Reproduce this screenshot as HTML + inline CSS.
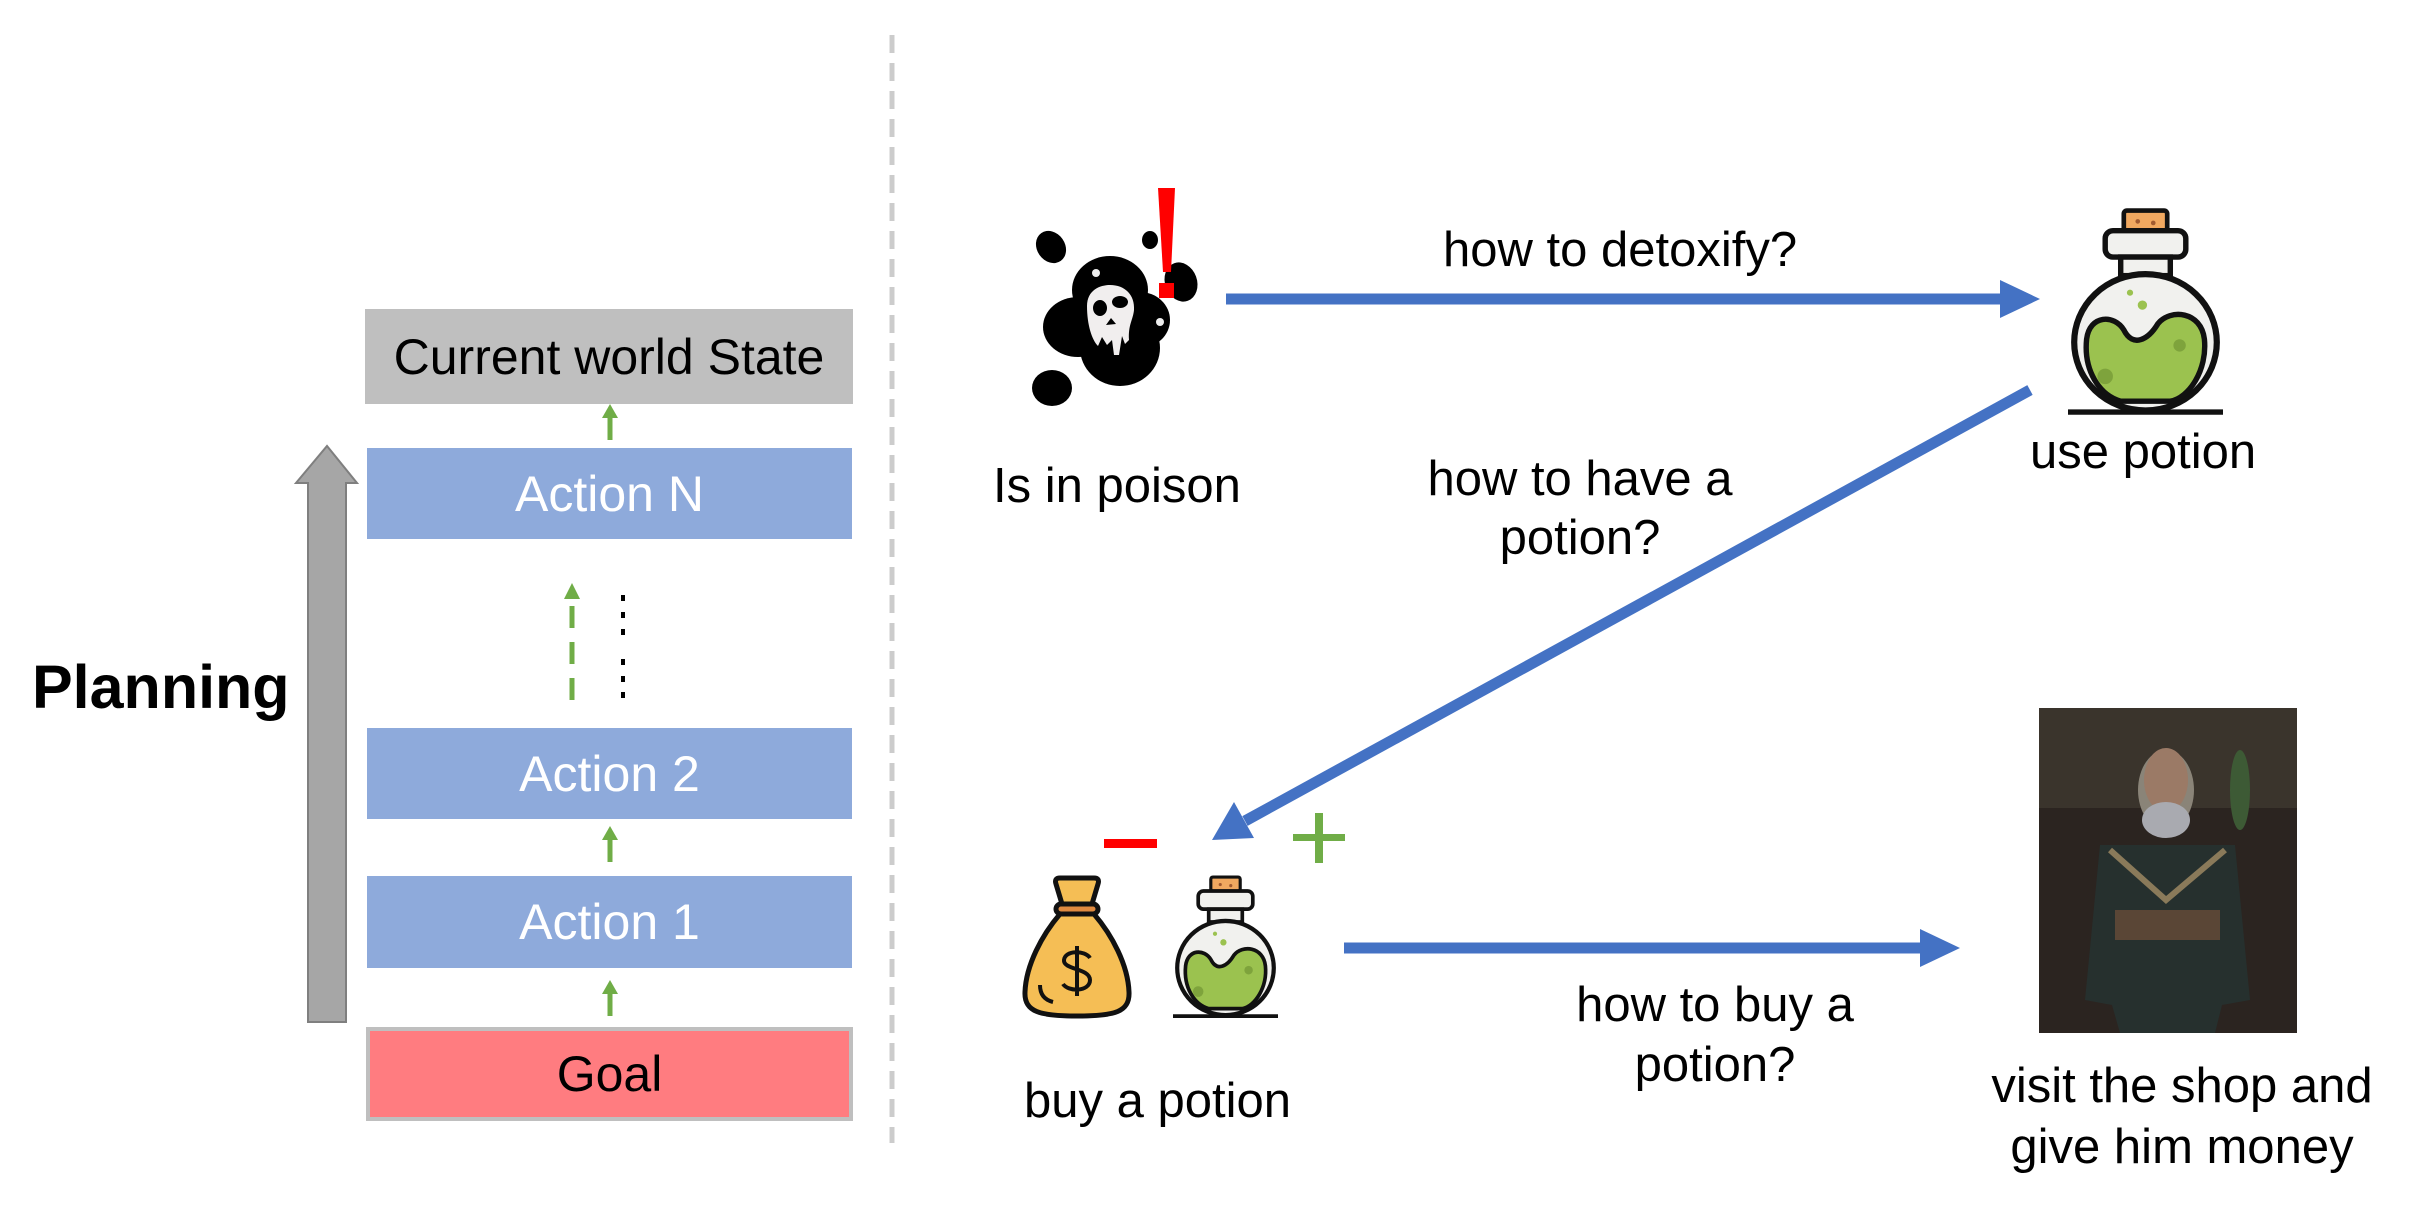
<!DOCTYPE html>
<html><head><meta charset="utf-8"><style>
html,body{margin:0;padding:0;background:#fff;}
body{width:2414px;height:1210px;position:relative;overflow:hidden;font-family:"Liberation Sans",Arial,sans-serif;}
.t{position:absolute;white-space:nowrap;color:#000;}
.box{position:absolute;display:flex;align-items:center;justify-content:center;font-size:50px;box-sizing:border-box;}
</style></head><body>
<svg width="2414" height="1210" style="position:absolute;left:0;top:0">
<defs>
<g id="potion">
  <rect x="36" y="1" width="28" height="13" rx="2" fill="#f0a860" stroke="#111" stroke-width="3"/>
  <circle cx="45" cy="8" r="1.5" fill="#a05a30"/><circle cx="55" cy="9" r="1.5" fill="#a05a30"/>
  <rect x="24" y="14" width="52" height="17" rx="5" fill="#f1f1ee" stroke="#111" stroke-width="3.5"/>
  <rect x="34" y="31" width="32" height="12" fill="#f1f1ee" stroke="#111" stroke-width="3.5"/>
  <ellipse cx="50" cy="86" rx="46" ry="44" fill="#f1f1ee" stroke="#111" stroke-width="4"/>
  <path d="M12 84 C14 68 30 68 36 78 C42 90 52 84 58 74 C66 64 86 66 88 84 C90 104 78 122 66 124 L34 124 C20 120 10 104 12 84 Z" fill="#9bc24f" stroke="#111" stroke-width="3.5"/>
  <circle cx="48" cy="62" r="3" fill="#9bc24f"/><circle cx="40" cy="54" r="2" fill="#9bc24f"/>
  <circle cx="72" cy="88" r="4" fill="#7ea33c"/><circle cx="24" cy="108" r="5" fill="#7ea33c"/>
  <line x1="0" y1="131" x2="100" y2="131" stroke="#111" stroke-width="3.5"/>
</g>
</defs>
<line x1="892" y1="35" x2="892" y2="1143" stroke="#cccccc" stroke-width="5" stroke-dasharray="18 10"/>
<polygon points="308,1022 346,1022 346,483 357,483 327,446 296,483 308,483" fill="#a6a6a6" stroke="#7f7f7f" stroke-width="2"/>
<g stroke="#70ad47" stroke-width="5" fill="#70ad47">
<line x1="610" y1="440" x2="610" y2="416"/><polygon points="602,418 618,418 610,404" stroke="none"/>
<line x1="610" y1="862" x2="610" y2="838"/><polygon points="602,840 618,840 610,826" stroke="none"/>
<line x1="610" y1="1016" x2="610" y2="992"/><polygon points="602,994 618,994 610,980" stroke="none"/>
<line x1="572" y1="700" x2="572" y2="595" stroke-dasharray="22 14"/><polygon points="564,599 580,599 572,583" stroke="none"/>
</g>
<g fill="#000"><rect x="621" y="595" width="4" height="6"/><rect x="621" y="612" width="4" height="6"/><rect x="621" y="629" width="4" height="6"/>
<rect x="621" y="659" width="4" height="6"/><rect x="621" y="676" width="4" height="6"/><rect x="621" y="692" width="4" height="6"/></g>
<g fill="#4472c4" stroke="#4472c4">
<line x1="1226" y1="299" x2="2005" y2="299" stroke-width="11"/>
<polygon points="2000,280 2040,299 2000,318" stroke="none"/>
<line x1="2030" y1="390" x2="1245" y2="821" stroke-width="11"/>
<polygon points="1212,840 1234,802 1254,838" stroke="none"/>
<line x1="1344" y1="948" x2="1925" y2="948" stroke-width="11"/>
<polygon points="1920,929 1960,948 1920,967" stroke="none"/>
</g>
<rect x="1104" y="839" width="53" height="9" fill="#ff0000"/>
<rect x="1293" y="834" width="52" height="7" fill="#70ad47"/>
<rect x="1315" y="813" width="8" height="50" fill="#70ad47"/>
<g fill="#000">
<ellipse cx="1051" cy="247" rx="14" ry="17" transform="rotate(-35 1051 247)"/>
<ellipse cx="1150" cy="240" rx="8" ry="9"/>
<ellipse cx="1181" cy="282" rx="16" ry="20" transform="rotate(-20 1181 282)"/>
<ellipse cx="1052" cy="388" rx="20" ry="18"/>
<ellipse cx="1110" cy="290" rx="38" ry="34"/>
<ellipse cx="1078" cy="327" rx="35" ry="30"/>
<ellipse cx="1120" cy="348" rx="40" ry="38"/>
<ellipse cx="1140" cy="320" rx="30" ry="28"/>
</g>
<path d="M1087 306 C1087 290 1100 285 1110 285 C1125 285 1135 295 1134 310 C1133 320 1128 325 1129 340 L1125 344 L1122 336 L1119 355 L1114 355 L1112 340 L1107 345 L1102 337 L1098 346 C1092 340 1087 325 1087 306 Z" fill="#f1eeee"/>
<ellipse cx="1100" cy="308" rx="7" ry="8" fill="#000"/>
<ellipse cx="1120" cy="302" rx="8" ry="6" fill="#000"/>
<path d="M1111 318 L1116 324 L1106 325 Z" fill="#000"/>
<circle cx="1096" cy="273" r="4" fill="#eee"/><circle cx="1160" cy="322" r="4" fill="#eee"/>
<polygon points="1158,188 1175,188 1171,272 1163,272" fill="#ff0000"/>
<rect x="1159" y="283" width="15" height="15" fill="#ff0000"/>
<use href="#potion" transform="translate(2068,209) scale(1.55,1.55)"/>
<use href="#potion" transform="translate(1173,876) scale(1.05,1.07)"/>
<g stroke="#111" stroke-width="5">
<path d="M1060 878 L1094 878 Q1100 878 1098 884 L1092 904 L1062 904 L1056 884 Q1054 878 1060 878 Z" fill="#f5be55"/>
<rect x="1056" y="904" width="42" height="10" rx="5" fill="#e08a40"/>
<path d="M1060 914 L1094 914 C1112 935 1128 965 1129 992 C1130 1012 1115 1016 1077 1016 C1040 1016 1024 1012 1025 992 C1026 965 1042 935 1060 914 Z" fill="#f5be55"/>
<path d="M1090 958 C1085 950 1065 950 1064 960 C1063 970 1090 968 1090 980 C1090 992 1068 992 1063 984 M1077 946 L1077 996" fill="none" stroke-width="4"/>
<path d="M1040 985 C1040 995 1045 1000 1053 1002" fill="none" stroke-width="4"/>
</g>
<rect x="2039" y="708" width="258" height="325" fill="#2b2420"/>
<rect x="2039" y="708" width="258" height="100" fill="#3a342c"/>
<ellipse cx="2166" cy="790" rx="28" ry="40" fill="#8a8478"/>
<ellipse cx="2166" cy="780" rx="22" ry="32" fill="#9b7a66"/>
<ellipse cx="2166" cy="820" rx="24" ry="18" fill="#a9aab0"/>
<path d="M2100 845 L2235 845 L2250 1000 L2222 1005 L2215 1033 L2120 1033 L2112 1005 L2085 1000 Z" fill="#26302e"/>
<rect x="2115" y="910" width="105" height="30" fill="#5a4636"/>
<path d="M2110 850 L2166 900 L2225 850" fill="none" stroke="#8a7a5a" stroke-width="6"/>
<ellipse cx="2240" cy="790" rx="10" ry="40" fill="#3d5a35"/>
</svg>
<div class="box" style="left:365px;top:309px;width:488px;height:95px;background:#bfbfbf;">Current world State</div>
<div class="box" style="left:367px;top:448px;width:485px;height:91px;background:#8eaadb;color:#fff;">Action N</div>
<div class="box" style="left:367px;top:728px;width:485px;height:91px;background:#8eaadb;color:#fff;">Action 2</div>
<div class="box" style="left:367px;top:876px;width:485px;height:92px;background:#8eaadb;color:#fff;">Action 1</div>
<div class="box" style="left:366px;top:1027px;width:487px;height:94px;background:#ff7c80;border:4px solid #bfbfbf;">Goal</div>
<div class="t" style="left:32px;top:652px;font-size:61px;font-weight:bold;">Planning</div>
<div class="t" style="left:1443px;top:222px;font-size:49px;">how to detoxify?</div>
<div class="t" style="left:993px;top:458px;font-size:49px;">Is in poison</div>
<div class="t" style="left:2030px;top:424px;font-size:49px;">use potion</div>
<div class="t" style="left:1380px;top:450px;font-size:49px;width:400px;text-align:center;line-height:59px;white-space:normal;">how to have a<br>potion?</div>
<div class="t" style="left:1024px;top:1073px;font-size:49px;">buy a potion</div>
<div class="t" style="left:1515px;top:975px;font-size:49px;width:400px;text-align:center;line-height:60px;white-space:normal;">how to buy a<br>potion?</div>
<div class="t" style="left:1982px;top:1056px;font-size:49px;width:400px;text-align:center;line-height:61px;white-space:normal;">visit the shop and<br>give him money</div>
</body></html>
